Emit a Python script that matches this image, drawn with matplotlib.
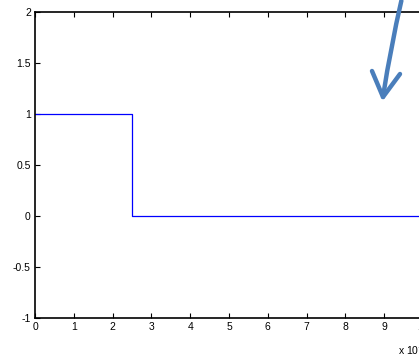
import numpy as np
import matplotlib.pyplot as plt
from matplotlib.lines import Line2D

# step signal (x in units of 1e-3)
step_x = [0, 2.5, 2.5, 10]
step_y = [1, 1, 0, 0]
xticks = [0, 1, 2, 3, 4, 5, 6, 7, 8, 9, 10]
yticks = [-1, -0.5, 0, 0.5, 1, 1.5, 2]
ytick_labels = ["-1", "-0.5", "0", "0.5", "1", "1.5", "2"]

plt.rcParams['font.family'] = ['Liberation Sans', 'DejaVu Sans']

W, H = 419, 355
fig = plt.figure(figsize=(W/100, H/100), dpi=100)
ax = fig.add_axes([35/W, 1-318/H, (423-35)/W, (318-12)/H])
ax.plot(step_x, step_y, color='#0000ff', lw=0.9)
ax.set_xlim(0, 10)
ax.set_ylim(-1, 2)
ax.set_xticks(xticks)
ax.set_yticks(yticks)
ax.set_yticklabels(ytick_labels)
ax.tick_params(direction='in', length=3.5, width=0.8, labelsize=7.5, top=True, right=False, pad=3)
for s in ax.spines.values():
    s.set_linewidth(1.2)
fig.text(398/W, 1-350/H, "x 10$^{-3}$", fontsize=7.5, ha='left', va='center')

# hand drawn arrow
c = '#4a7ebb'
def px(x, y):
    return (x/W, 1-y/H)
ax.annotate("", xy=px(383, 97), xycoords='figure fraction',
            xytext=px(402, -2), textcoords='figure fraction',
            arrowprops=dict(arrowstyle='-', color=c, lw=3.2,
                            connectionstyle='arc3,rad=0.02'), annotation_clip=False)
for bx, by in [(372, 71), (400, 74)]:
    fig.add_artist(Line2D([px(bx, by)[0], px(383, 97)[0]], [px(bx, by)[1], px(383, 97)[1]],
                          transform=fig.transFigure, color=c, lw=3.2, solid_capstyle='round'))

fig.savefig("out.png", dpi=100)
